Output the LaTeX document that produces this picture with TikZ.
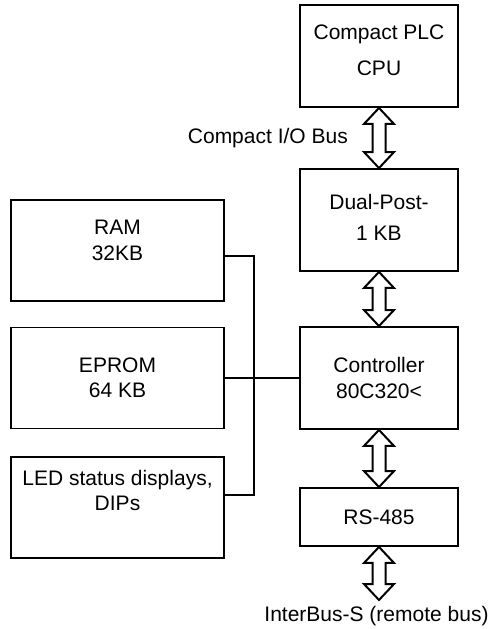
\documentclass[tikz,border=0pt]{standalone}
\usepackage{fontspec}
\setmainfont{Liberation Sans}
\usepackage{tikz}
\usetikzlibrary{calc}

% hollow two-way bus arrow between two anchors
\newcommand{\fatarrow}[2]{%
  \draw[fat] let \p1=(#1), \p2=(#2) in
    (\x1,\y1) -- (\x1+15pt,\y1-16pt) -- (\x1+6.5pt,\y1-16pt)
    -- (\x1+6.5pt,\y2+16pt) -- (\x1+15pt,\y2+16pt) -- (\x1,\y2)
    -- (\x1-15pt,\y2+16pt) -- (\x1-6.5pt,\y2+16pt)
    -- (\x1-6.5pt,\y1-16pt) -- (\x1-15pt,\y1-16pt) -- cycle;}

\begin{document}
\begin{tikzpicture}[x=1pt,y=-1pt,
    box/.style={draw,line width=1.9pt,align=center,inner sep=0pt,
      font=\fontsize{21}{25.5}\selectfont},
    rbox/.style={box,minimum width=158pt,minimum height=102pt},
    lbox/.style={box,minimum width=213pt,minimum height=101pt},
    lbl/.style={inner sep=0pt,font=\fontsize{21}{25.5}\selectfont},
    fat/.style={line width=2pt,line join=miter},
    bus/.style={line width=1.9pt}]
  \useasboundingbox (0,0) rectangle (491,629);

  % right column
  \node[rbox,text depth=12pt] (cpu) at (379,56) {Compact PLC\\[10.5pt]CPU};
  \node[rbox,text depth=6pt] (dual) at (379,220) {Dual-Post-\\[5.5pt]1 KB};
  \node[rbox] (ctrl) at (379,378) {Controller\\80C320<};
  \node[box,minimum width=158pt,minimum height=58pt] (rs) at (379,517) {RS-485};

  % left column
  \node[lbox,text depth=20pt] (ram) at (117.5,250.5) {RAM\\32KB};
  \node[lbox] (eprom) at (117.5,378) {EPROM\\64 KB};
  \node[lbox,text depth=34pt] (led) at (117.5,507.5) {LED status displays,\\DIPs};

  % internal bus
  \coordinate (bustop) at (254,256);
  \coordinate (busbot) at (254,495);
  \draw[bus] (ram.east |- bustop) -- (bustop) -- (busbot) -- (led.east |- busbot);
  \draw[bus] (eprom.east) -- (ctrl.west);

  % bus arrows
  \fatarrow{cpu.south}{dual.north}
  \fatarrow{dual.south}{ctrl.north}
  \fatarrow{ctrl.south}{rs.north}
  \coordinate (remote) at (379,600);
  \fatarrow{rs.south}{remote}

  \node[lbl,anchor=east] (iobus) at ($(cpu.south)!0.5!(dual.north)+(-31,0)$) {Compact I/O Bus};
  \node[lbl] (ibs) at (376.5,616) {InterBus-S (remote bus)};
\end{tikzpicture}
\end{document}
